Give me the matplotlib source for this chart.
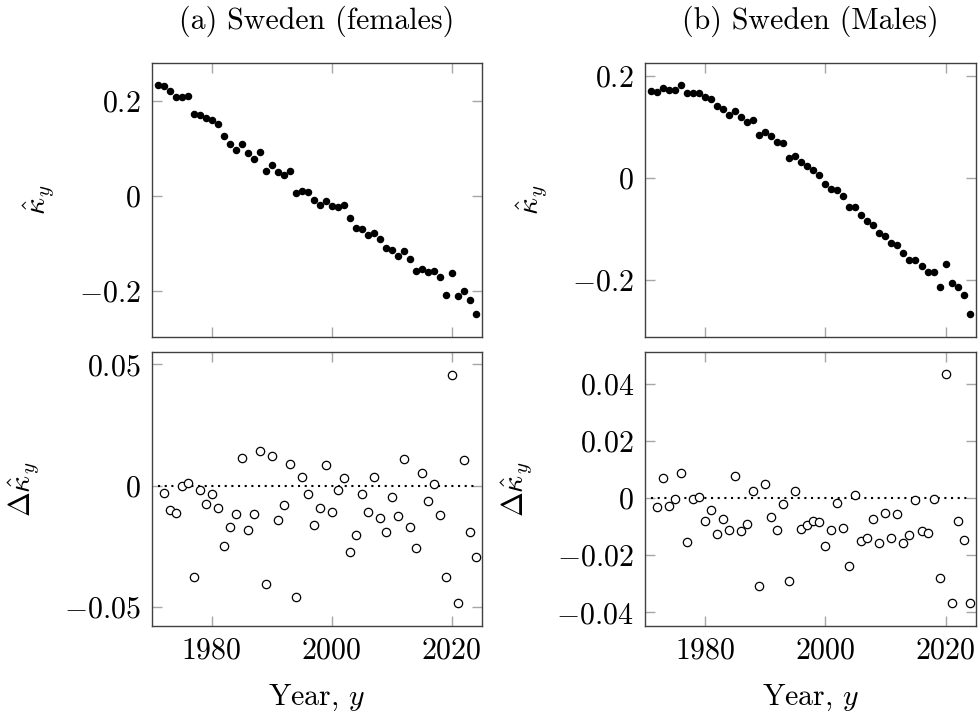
import matplotlib
matplotlib.use("Agg")
import matplotlib.pyplot as plt
from matplotlib.ticker import FuncFormatter, FixedLocator

plt.rcParams['font.family'] = 'serif'
plt.rcParams['font.serif'] = ['cmr10']
plt.rcParams['mathtext.fontset'] = 'cm'
plt.rcParams['axes.formatter.use_mathtext'] = True

years = list(range(1971, 2025))
diff_years = list(range(1972, 2025))

kappa_female = [0.234, 0.232, 0.221, 0.209, 0.209, 0.211, 0.173, 0.172, 0.164, 0.161,
                0.152, 0.126, 0.110, 0.098, 0.109, 0.091, 0.079, 0.094, 0.053, 0.066,
                0.052, 0.044, 0.053, 0.007, 0.011, 0.008, -0.009, -0.019, -0.010, -0.020,
                -0.022, -0.019, -0.046, -0.066, -0.070, -0.081, -0.077, -0.091, -0.110, -0.114,
                -0.126, -0.116, -0.133, -0.158, -0.153, -0.159, -0.158, -0.170, -0.208, -0.162,
                -0.211, -0.199, -0.218, -0.248]

dkappa_female = [-0.0030, -0.0099, -0.0114, 0.0000, 0.0012, -0.0375, -0.0019, -0.0074, -0.0036,
                 -0.0091, -0.0247, -0.0169, -0.0117, 0.0114, -0.0181, -0.0117, 0.0142, -0.0404,
                 0.0122, -0.0142, -0.0080, 0.0089, -0.0460, 0.0037, -0.0036, -0.0161, -0.0093,
                 0.0085, -0.0110, -0.0019, 0.0032, -0.0273, -0.0203, -0.0036, -0.0107, 0.0038,
                 -0.0135, -0.0190, -0.0048, -0.0126, 0.0109, -0.0169, -0.0258, 0.0054, -0.0065,
                 0.0007, -0.0120, -0.0376, 0.0458, -0.0484, 0.0106, -0.0190, -0.0294]

kappa_male = [0.170, 0.167, 0.175, 0.171, 0.171, 0.181, 0.165, 0.165, 0.166, 0.158,
              0.154, 0.141, 0.134, 0.123, 0.130, 0.119, 0.110, 0.113, 0.083, 0.089,
              0.081, 0.070, 0.068, 0.039, 0.043, 0.031, 0.023, 0.016, 0.005, -0.012,
              -0.022, -0.023, -0.035, -0.058, -0.057, -0.072, -0.085, -0.093, -0.109, -0.113,
              -0.127, -0.132, -0.148, -0.161, -0.161, -0.173, -0.185, -0.185, -0.214, -0.169,
              -0.206, -0.214, -0.229, -0.266]

dkappa_male = [-0.0030, 0.0071, -0.0028, -0.0001, 0.0088, -0.0154, -0.0001, 0.0005, -0.0080,
               -0.0042, -0.0127, -0.0073, -0.0112, 0.0077, -0.0116, -0.0091, 0.0025, -0.0306,
               0.0050, -0.0064, -0.0111, -0.0019, -0.0291, 0.0027, -0.0108, -0.0095, -0.0081,
               -0.0084, -0.0168, -0.0112, -0.0018, -0.0105, -0.0236, 0.0011, -0.0149, -0.0141,
               -0.0074, -0.0156, -0.0050, -0.0141, -0.0055, -0.0157, -0.0130, -0.0006, -0.0116,
               -0.0121, -0.0002, -0.0279, 0.0435, -0.0368, -0.0081, -0.0147, -0.0368]

titles = ["(a) Sweden (females)", "(b) Sweden (Males)"]
x_ticks = [1980, 2000, 2020]
yticks_top = [-0.2, 0, 0.2]
yticks_bottom_f = [-0.05, 0, 0.05]
yticks_bottom_m = [-0.04, -0.02, 0, 0.02, 0.04]

W, H = 979, 713
fig = plt.figure(figsize=(W / 100, H / 100), dpi=100)

def frac(x0, y0, x1, y1):
    return [x0 / W, 1 - y1 / H, (x1 - x0) / W, (y1 - y0) / H]

ax_tl = fig.add_axes(frac(151.7, 63.3, 481.7, 336.7))
ax_bl = fig.add_axes(frac(151.7, 352.3, 481.7, 625.7))
ax_tr = fig.add_axes(frac(645.0, 63.3, 975.6, 336.7))
ax_br = fig.add_axes(frac(645.0, 352.3, 975.6, 625.7))

def fmt(v, pos):
    if abs(v) < 1e-12:
        return r'$0$'
    return r'$%s$' % ('%g' % v)

FS = 21.5
TICKC = '#a6a6a6'

def style(ax, yticks, ylim, show_x):
    ax.set_xlim(1970, 2025)
    ax.set_ylim(*ylim)
    ax.xaxis.set_major_locator(FixedLocator(x_ticks))
    ax.yaxis.set_major_locator(FixedLocator(yticks))
    ax.yaxis.set_major_formatter(FuncFormatter(fmt))
    ax.xaxis.set_major_formatter(FuncFormatter(lambda v, p: r'$%d$' % v))
    ax.tick_params(direction='in', length=7.5, width=1.0, color=TICKC,
                   top=True, right=True, labelsize=FS, pad=8)
    if not show_x:
        ax.tick_params(labelbottom=False)
    for s in ax.spines.values():
        s.set_color('#404040')
        s.set_linewidth(1.0)

# top panels
ax_tl.plot(years, kappa_female, 'o', color='black', markersize=4.4, clip_on=False, zorder=3)
ax_tr.plot(years, kappa_male, 'o', color='black', markersize=4.4, clip_on=False, zorder=3)
style(ax_tl, yticks_top, (-0.296, 0.280), False)
style(ax_tr, yticks_top, (-0.311, 0.224), False)

# bottom panels
for ax, d in [(ax_bl, dkappa_female), (ax_br, dkappa_male)]:
    ax.plot([years[0], years[-1]], [0, 0], linestyle=(0, (1, 2.2)), color='black',
            linewidth=1.5, zorder=2)
    ax.plot(diff_years, d, 'o', markerfacecolor='white', markeredgecolor='black',
            markersize=6.0, markeredgewidth=0.9, clip_on=False, zorder=3)
style(ax_bl, yticks_bottom_f, (-0.0577, 0.055), True)
style(ax_br, yticks_bottom_m, (-0.0447, 0.0512), True)

# labels
ax_tl.set_ylabel(r'$\hat{\kappa}_y$', fontsize=FS)
ax_bl.set_ylabel(r'$\Delta\hat{\kappa}_y$', fontsize=FS)
ax_tr.set_ylabel(r'$\hat{\kappa}_y$', fontsize=FS)
ax_br.set_ylabel(r'$\Delta\hat{\kappa}_y$', fontsize=FS)
ax_tl.yaxis.set_label_coords(-95.0 / 330, 0.5)
ax_bl.yaxis.set_label_coords(-110.0 / 330, 0.5)
ax_tr.yaxis.set_label_coords(-95.0 / 330.6, 0.5)
ax_br.yaxis.set_label_coords(-110.0 / 330.6, 0.5)

for ax in (ax_bl, ax_br):
    ax.set_xlabel(r'Year, $y$', fontsize=FS, labelpad=13)

ax_tl.set_title(titles[0], fontsize=FS, pad=25)
ax_tr.set_title(titles[1], fontsize=FS, pad=25)

fig.savefig('out.png', dpi=100)
